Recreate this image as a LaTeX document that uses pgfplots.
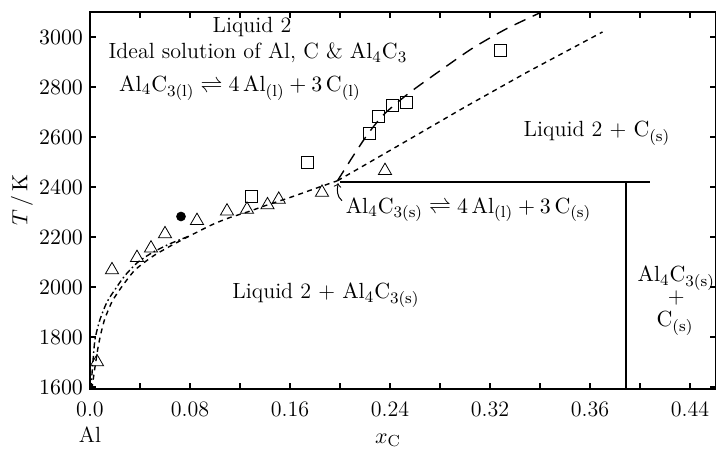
\documentclass[border=0pt]{standalone}
\usepackage{pgfplots}
\pgfplotsset{compat=1.18}
\begin{document}
\begin{tikzpicture}[font=\fontsize{11}{13}\selectfont]
\begin{axis}[
  at={(0,0)}, anchor=south west, scale only axis,
  width=313pt, height=188.5pt,
  xmin=0, xmax=0.5008, ymin=1592, ymax=3100,
  axis line style={line width=1.1pt},
  tick align=inside,
  tick style={black, line width=0.6pt},
  major tick length=3pt, minor tick length=3pt,
  xtick={0,0.08,0.16,0.24,0.32,0.40,0.48},
  xticklabels={0.0,0.08,0.16,0.24,0.32,0.36,0.44},
  minor xtick={0.04,0.12,0.20,0.28,0.36,0.44},
  ytick={1600,1800,...,3000},
  yticklabel style={/pgf/number format/1000 sep={}},
  tick label style={font=\fontsize{11}{13}\selectfont},
  xticklabel style={yshift=-3pt},
  clip=true,
]
% liquidus (short dashes)
\addplot[black, line width=0.7pt, dash pattern=on 2.5pt off 2.2pt, smooth, tension=0.4] coordinates {
  (0.0015,1592) (0.004,1680) (0.0065,1760) (0.009,1820) (0.012,1875)
  (0.018,1945) (0.026,2005) (0.036,2068) (0.05,2122) (0.064,2163)
  (0.08,2205) (0.098,2250) (0.112,2278) (0.126,2300) (0.14,2325)
  (0.16,2358) (0.178,2390) (0.198,2425)
};
\addplot[black, line width=0.7pt, dash pattern=on 2.5pt off 2.2pt] coordinates {
  (0.198,2425) (0.25,2575) (0.30,2720) (0.35,2860) (0.41,3020)
};
% dash-dot
\addplot[black, line width=0.7pt, dash pattern=on 3pt off 1.5pt on 0.8pt off 1.5pt, smooth, tension=0.4] coordinates {
  (0.0008,1592) (0.002,1680) (0.004,1790) (0.008,1870) (0.0136,1940)
  (0.02,1990) (0.028,2046) (0.038,2098) (0.05,2138) (0.064,2173) (0.08,2205)
};
% long dashes
\addplot[black, line width=0.7pt, dash pattern=on 6pt off 4pt, smooth, tension=0.4] coordinates {
  (0.198,2425) (0.21,2520) (0.222,2610) (0.235,2690) (0.255,2775)
  (0.28,2865) (0.306,2955) (0.334,3035) (0.37,3120)
};
% invariant lines
\addplot[black, line width=0.8pt] coordinates {(0.2,2420) (0.448,2420)};
\addplot[black, line width=0.6pt] coordinates {(0.4288,2420) (0.4288,1592)};
% data
\addplot[only marks, mark=triangle, mark size=3.8pt, mark options={black, line width=0.4pt}] coordinates {
  (0.0056,1700) (0.0176,2068) (0.0376,2117) (0.0488,2155) (0.06,2212)
  (0.0856,2265) (0.1096,2303) (0.1256,2310) (0.142,2328) (0.151,2350)
  (0.1856,2378) (0.236,2465)
};
\addplot[only marks, mark=square, mark size=3pt, mark options={black, line width=0.4pt}] coordinates {
  (0.129,2362) (0.1736,2497) (0.2232,2614) (0.231,2682) (0.2416,2726)
  (0.2528,2740) (0.328,2947)
};
\addplot[only marks, mark=*, mark size=2.2pt, black] coordinates {(0.0728,2282)};
% labels
\node at (axis cs:0.1296,3040) {Liquid 2};
\node at (axis cs:0.1344,2935) {Ideal solution of Al, C \& $\mathrm{Al}_4\mathrm{C}_3$};
\node at (axis cs:0.12,2795) {$\mathrm{Al}_4\mathrm{C}_{3(\mathrm{l})}\rightleftharpoons 4\,\mathrm{Al}_{(\mathrm{l})}+3\,\mathrm{C}_{(\mathrm{l})}$};
\node at (axis cs:0.4056,2614) {Liquid 2 + $\mathrm{C}_{(\mathrm{s})}$};
\node[anchor=west] at (axis cs:0.199,2308) {$\mathrm{Al}_4\mathrm{C}_{3(\mathrm{s})}\rightleftharpoons 4\,\mathrm{Al}_{(\mathrm{l})}+3\,\mathrm{C}_{(\mathrm{s})}$};
\node at (axis cs:0.1888,1966) {Liquid 2 + $\mathrm{Al}_4\mathrm{C}_{3(\mathrm{s})}$};
\node at (axis cs:0.469,2034) {$\mathrm{Al}_4\mathrm{C}_{3(\mathrm{s})}$};
\node at (axis cs:0.469,1954) {+};
\node at (axis cs:0.468,1853) {$\mathrm{C}_{(\mathrm{s})}$};
\draw[->, line width=0.5pt] (axis cs:0.2016,2345) to[out=140, in=-100] (axis cs:0.1985,2415);
\end{axis}
\node[rotate=90] at (-34pt,94.5pt) {$T\,/\,\mathrm{K}$};
\node at (0pt,-23pt) {Al};
\node at (149pt,-25.5pt) {$x_{\mathrm{C}}$};
\pgfresetboundingbox
\useasboundingbox (-45pt,-32pt) rectangle (313pt,194.5pt);
\end{tikzpicture}
\end{document}
